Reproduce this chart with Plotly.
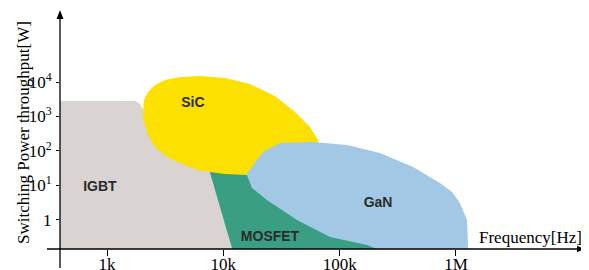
import plotly.graph_objects as go

# ---- data (frequency in Hz, power in W) ----
x_tick_vals = [1e3, 1e4, 1e5, 1e6]
x_tick_text = ["1k", "10k", "100k", "1M"]
y_tick_vals = [1, 10, 100, 1000, 10000]
y_tick_text = ["1", "10<sup>1</sup>", "10<sup>2</sup>", "10<sup>3</sup>", "10<sup>4</sup>"]

igbt_freq = [300, 300, 1740, 1885, 2120, 7680, 12300]
igbt_power = [0.1, 2810, 2810, 2460, 1350, 23, 0.1]

mosfet_freq = [6950, 45600, 380000, 12300, 7680]
mosfet_power = [107, 107, 0.1, 0.1, 23]

sic_freq = [2040, 2080, 2250, 2590, 3150, 4250, 6300, 10330, 16940, 27800, 41300,
            55600, 65100, 67800, 55600, 30700, 15960, 10330, 7680, 5940, 4250,
            3280, 2590, 2250, 2080]
sic_power = [1350, 3010, 5130, 8190, 11430, 13960, 14900, 13060, 8750, 3930, 1350,
             497, 208, 107, 39.3, 18.8, 20.1, 21.5, 24.6, 28.1, 44.9,
             67, 131, 291, 693]

gan_freq = [1268000, 1268000, 1244000, 1081000, 925000, 728000, 427000, 222300,
            115600, 59000, 30700, 21900, 18700, 16300, 15960, 17620, 23700,
            43000, 82600, 171800, 270900]
gan_power = [0.1, 0.188, 1.0, 3.11, 6.48, 11.8, 34.4, 87.5,
             149, 182, 171, 93.5, 44.9, 24.6, 20.1, 8.47, 3.80,
             1.0, 0.321, 0.188, 0.1]

region_names = ["IGBT", "SiC", "MOSFET", "GaN"]
label_freq = [870, 5480, 25200, 214000]
label_power = [9, 2460, 0.32, 3.1]

# ---- layout geometry (page pixels; page body has an 8px margin) ----
OFF = 8
W, H = 589 - OFF, 270 - OFF
PL, PR, PT, PB = 60, 585, 10, 249          # plot area on the page
L, T = PL - OFF, PT - OFF
R, B = W - (PR - OFF), H - (PB - OFF)
pw, ph = PR - PL, PB - PT

def px(x):  # page x -> paper
    return (x - PL) / pw

def py(y):  # page y -> paper
    return (PB - y) / ph

fig = go.Figure()
def region(fx, pwr, color):
    fig.add_trace(go.Scatter(x=fx, y=pwr, mode="lines", fill="toself",
                             fillcolor=color, line=dict(width=0, color=color),
                             hoverinfo="skip", showlegend=False))

region(igbt_freq, igbt_power, "#D9D4D1")
region(mosfet_freq, mosfet_power, "#3A9E82")
region(sic_freq, sic_power, "#FCE000")
region(gan_freq, gan_power, "#A2C8E5")

fig.add_trace(go.Scatter(x=label_freq, y=label_power, mode="text",
                         text=["<b>%s</b>" % n for n in region_names],
                         textfont=dict(family="Liberation Sans, Arial, sans-serif",
                                       size=14, color="#2b2b2b"),
                         hoverinfo="skip", showlegend=False))

serif = "Liberation Serif, Times New Roman, serif"
fig.update_layout(
    width=W, height=H, margin=dict(l=L, r=R, t=T, b=B),
    paper_bgcolor="white", plot_bgcolor="white",
    xaxis=dict(type="log", range=[2.596, 7.109], tickvals=x_tick_vals,
               ticktext=x_tick_text, ticks="outside", ticklen=6, tickwidth=1,
               tickcolor="black", showline=False, showgrid=False, zeroline=False,
               tickfont=dict(family=serif, size=17, color="black"),
               ticklabelstandoff=-6, automargin=False, fixedrange=True),
    yaxis=dict(type="log", range=[-0.841, 6.087], tickvals=y_tick_vals,
               ticktext=y_tick_text, ticks="outside", ticklen=3, tickwidth=1,
               tickcolor="black", showline=False, showgrid=False, zeroline=False,
               tickfont=dict(family=serif, size=17, color="black"),
               ticklabelstandoff=1, automargin=False, fixedrange=True),
)

# axis lines with arrows (paper coordinates)
fig.add_shape(type="line", xref="paper", yref="paper",
              x0=px(47), x1=1 - 6 / pw, y0=0, y1=0,
              line=dict(color="black", width=1.3))
fig.add_shape(type="line", xref="paper", yref="paper",
              x0=0, x1=0, y0=py(268), y1=1 - 6 / ph,
              line=dict(color="black", width=1.3))
ax_dx, ax_dy = 8 / pw, 3.2 / ph
fig.add_shape(type="path", xref="paper", yref="paper",
              path=f"M 1 0 L {1-ax_dx} {ax_dy} L {1-ax_dx} {-ax_dy} Z",
              fillcolor="black", line=dict(width=0))
ay_dy, ay_dx = 9 / ph, 3.5 / pw
fig.add_shape(type="path", xref="paper", yref="paper",
              path=f"M 0 1 L {-ay_dx} {1-ay_dy} L {ay_dx} {1-ay_dy} Z",
              fillcolor="black", line=dict(width=0))

fig.add_annotation(text="Switching Power throughput[W]", xref="paper", yref="paper",
                   x=px(23), y=py(133), textangle=-90,
                   showarrow=False, xanchor="center", yanchor="middle",
                   font=dict(family=serif, size=17, color="black"))
fig.add_annotation(text="Frequency[Hz]", xref="paper", yref="paper",
                   x=px(584), y=py(237),
                   showarrow=False, xanchor="right", yanchor="middle",
                   font=dict(family=serif, size=17, color="black"))

fig.write_html("out.html")
